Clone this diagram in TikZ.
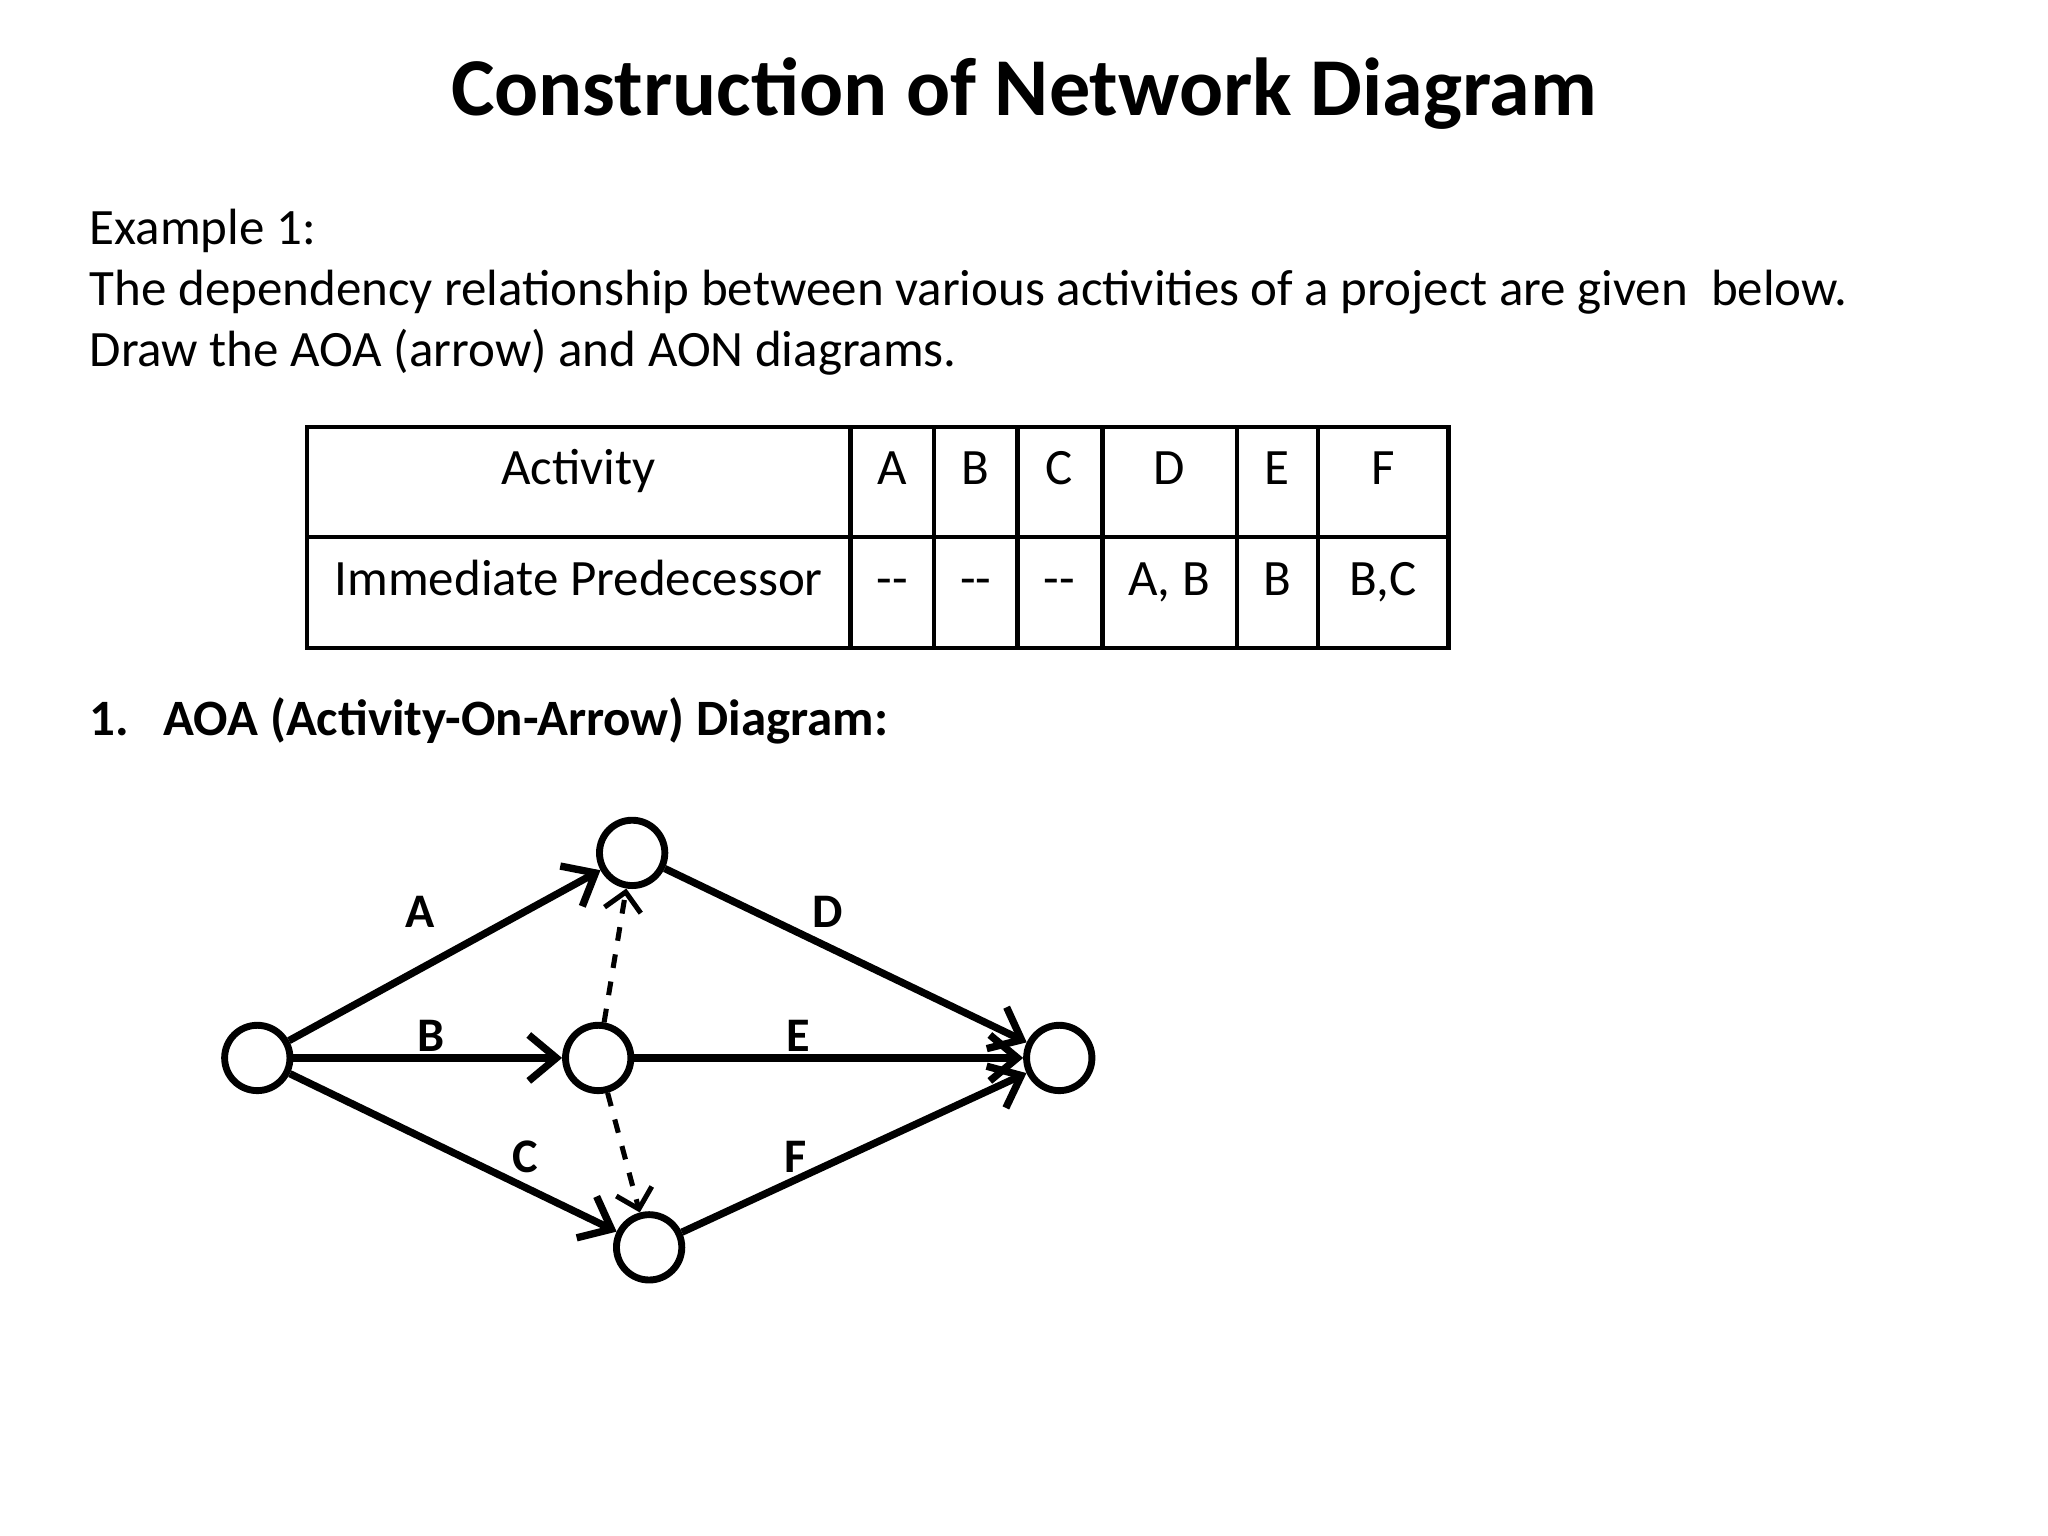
\documentclass[tikz,border=0pt]{standalone}
\usepackage{fontspec}
\setmainfont{Carlito}
\usetikzlibrary{arrows.meta}
\begin{document}
\begin{tikzpicture}[x=0.01cm,y=-0.01cm,
  ev/.style={circle,draw,line width=1.5pt,minimum size=0.5cm,inner sep=0pt,fill=white},
  act/.style={line width=1.6pt,-{Straight Barb[length=6pt,width=10pt,line width=1.6pt]}},
  dum/.style={act,dashed,line width=1.1pt,-{Straight Barb[length=4pt,width=8pt,line width=1.1pt]}},
  lab/.style={font=\bfseries\fontsize{10.5}{12}\selectfont},
  txt/.style={anchor=west,inner sep=0pt,font=\fontsize{11.1}{13}\selectfont},
  cell/.style={anchor=base,font=\fontsize{11.1}{13}\selectfont}]
\useasboundingbox (0,0) rectangle (1568,1176);
\node[font=\bfseries\fontsize{17.9}{21}\selectfont] (title) at (784,72) {Construction of Network Diagram};
\node[txt] (l1) at (68,177) {Example 1:};
\node[txt] (l2) at (68,224) {The dependency relationship between various activities of a project are given\ \ below.};
\node[txt] (l3) at (68,270) {Draw the AOA (arrow) and AON diagrams.};
% table
\draw[line width=1pt] (235,327) rectangle (1109,496);
\draw[line width=1pt] (235,411) -- (1109,411);
\foreach \x in {651,715,779,844,947,1009} \draw[line width=1pt] (\x,327) -- (\x,496);
\node[cell] (h0) at (443,371) {Activity};
\node[cell] (h1) at (683,371) {A};
\node[cell] (h2) at (747,371) {B};
\node[cell] (h3) at (811,371) {C};
\node[cell] (h4) at (895,371) {D};
\node[cell] (h5) at (978,371) {E};
\node[cell] (h6) at (1059,371) {F};
\node[cell] (r0) at (443,456) {Immediate Predecessor};
\node[cell] (r1) at (683,456) {{-}{-}};
\node[cell] (r2) at (747,456) {{-}{-}};
\node[cell] (r3) at (811,456) {{-}{-}};
\node[cell] (r4) at (895,456) {A, B};
\node[cell] (r5) at (978,456) {B};
\node[cell] (r6) at (1059,456) {B,C};
\node[txt,font=\bfseries\fontsize{11.1}{13}\selectfont] (sec) at (68,552) {1.\ \ \ AOA (Activity-On-Arrow) Diagram:};
% network
\node[ev] (n1) at (197,810) {};
\node[ev] (n2) at (484,653) {};
\node[ev] (n3) at (458,810) {};
\node[ev] (n4) at (497,955) {};
\node[ev] (n5) at (811,810) {};
\draw[act] (n1) -- (n2);
\draw[act] (n1) -- (n3);
\draw[act] (n1) -- (n4);
\draw[act] (n2) -- (n5);
\draw[act] (n3) -- (n5);
\draw[act] (n4) -- (n5);
\draw[dum] (n3) -- (n2);
\draw[dum] (n3) -- (n4);
\node[lab] (la) at (322,698) {A};
\node[lab] (lb) at (330,793) {B};
\node[lab] (lc) at (402,886) {C};
\node[lab] (ld) at (634,698) {D};
\node[lab] (le) at (611,793) {E};
\node[lab] (lf) at (609,886) {F};
\end{tikzpicture}
\end{document}
